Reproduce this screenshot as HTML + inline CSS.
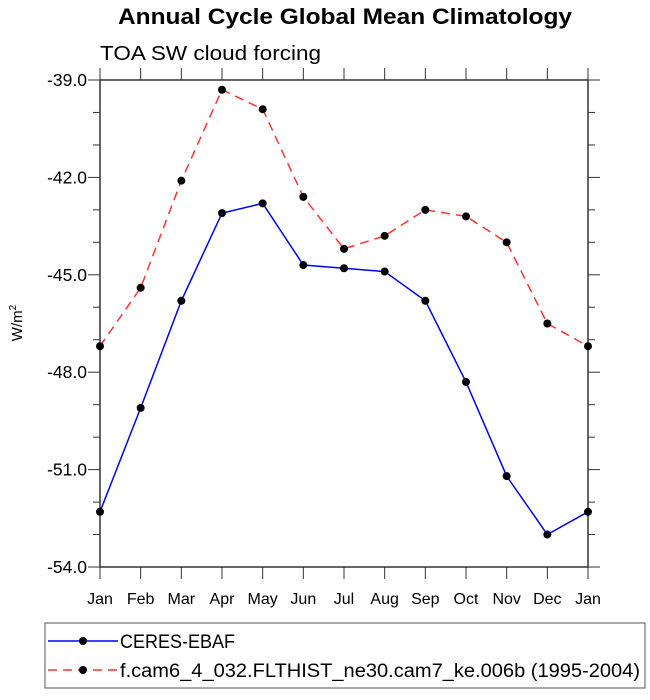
<!DOCTYPE html>
<html><head><meta charset="utf-8"><style>
body{margin:0;background:#fff;}
svg text{font-family:"Liberation Sans",sans-serif;}
</style></head><body>
<svg id="chart" width="650" height="695">
<text x="118" y="24" font-size="22" font-weight="bold" textLength="454" lengthAdjust="spacingAndGlyphs">Annual Cycle Global Mean Climatology</text>
<text x="100" y="60" font-size="20" textLength="221" lengthAdjust="spacingAndGlyphs">TOA SW cloud forcing</text>
<text transform="translate(22,323) rotate(-90)" text-anchor="middle" font-size="15">W/m<tspan font-size="10" dy="-6">2</tspan></text>
<g id="axes"></g>
<g id="series"></g>
<rect x="45" y="623" width="600" height="65" fill="none" stroke="#555" stroke-width="1"/>
<line x1="48" y1="641" x2="118" y2="641" stroke="#0000ff" stroke-width="1.5"/>
<circle cx="83" cy="641" r="4" fill="#000"/>
<text x="120" y="648" font-size="19" textLength="115" lengthAdjust="spacingAndGlyphs">CERES-EBAF</text>
<line x1="48" y1="670" x2="118" y2="670" stroke="#ff3333" stroke-width="1.5" stroke-dasharray="9,6"/>
<circle cx="83" cy="670" r="4" fill="#000"/>
<text x="120" y="677" font-size="19" textLength="520" lengthAdjust="spacingAndGlyphs">f.cam6_4_032.FLTHIST_ne30.cam7_ke.006b (1995-2004)</text>
</svg>
<script>
const months=["Jan","Feb","Mar","Apr","May","Jun","Jul","Aug","Sep","Oct","Nov","Dec","Jan"];
const ceres=[-52.3,-49.1,-45.8,-43.1,-42.8,-44.7,-44.8,-44.9,-45.8,-48.3,-51.2,-53.0,-52.3];
const model=[-47.2,-45.4,-42.1,-39.3,-39.9,-42.6,-44.2,-43.8,-43.0,-43.2,-44.0,-46.5,-47.2];
const yTicks=[-39.0,-42.0,-45.0,-48.0,-51.0,-54.0];
const X0=100,X1=588,Y0=80,Y1=567,YMAX=-39,YMIN=-54;
const sx=i=>X0+(X1-X0)*i/(months.length-1);
const sy=v=>Y0+(YMAX-v)/(YMAX-YMIN)*(Y1-Y0);
const NS="http://www.w3.org/2000/svg";
function mk(tag,attrs,parent){const e=document.createElementNS(NS,tag);for(const k in attrs)e.setAttribute(k,attrs[k]);parent.appendChild(e);return e;}
const ax=document.getElementById('axes');
const fr=mk('rect',{x:X0,y:Y0,width:X1-X0,height:Y1-Y0,fill:'none',stroke:'#333','stroke-width':1.5},ax);


months.forEach((m,i)=>{
  const x=sx(i);
  const t1=mk('line',{x1:x,y1:Y1,x2:x,y2:Y1+12,stroke:'#333'},ax);
  
  
  const t2=mk('line',{x1:x,y1:Y0,x2:x,y2:Y0-12,stroke:'#333'},ax);
  
  
  const l=mk('text',{x:x,y:Y1+37,'text-anchor':'middle','font-size':16},ax);
  l.textContent=m;
  
  
});
for(let v=YMAX;v>=YMIN-0.001;v-=1){
  const y=sy(v);const major=Math.abs(Math.round(v)%3)===0;
  const len=major?12:7;
  const a=mk('line',{x1:X0-len,y1:y,x2:X0,y2:y,stroke:'#333'},ax);
  
  
  const b=mk('line',{x1:X1,y1:y,x2:X1+len,y2:y,stroke:'#333'},ax);
  
  
}
yTicks.forEach(v=>{
  const t=mk('text',{x:X0-13,y:sy(v)+6,'text-anchor':'end','font-size':17.5},ax);
  t.textContent=v.toFixed(1);
  
  
});
const sg=document.getElementById('series');
function draw(vals,color,dash,name){
  const p=mk('polyline',{points:vals.map((v,i)=>sx(i)+','+sy(v)).join(' '),fill:'none',stroke:color,'stroke-width':1.5,'stroke-dasharray':dash},sg);
  
  
  vals.forEach((v,i)=>{
    const c=mk('circle',{cx:sx(i),cy:sy(v),r:4,fill:'#000'},sg);
    
    
  });
}
draw(ceres,'#0000ff','none','ceres');
draw(model,'#ff3333','9,6','model');
</script>
</body></html>
